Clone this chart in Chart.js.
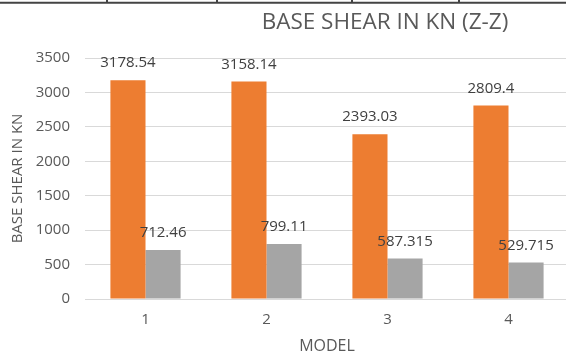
<!DOCTYPE html>
<html>
<head>
<meta charset="utf-8">
<script src="https://cdn.jsdelivr.net/npm/chart.js@4/dist/chart.umd.min.js"></script>
<style>
  html, body { margin: 0; padding: 0; background: #fff; overflow: hidden; }
  #wrap { width: 570px; height: 356px; }
</style>
</head>
<body>
<div id="wrap"><canvas id="c" width="570" height="356"></canvas></div>
<script>
// Base shear per model, Z-Z direction
const models = ['1', '2', '3', '4'];
const shearOrange = [3178.54, 3158.14, 2393.03, 2809.4];
const shearGray = [712.46, 799.11, 587.315, 529.715];
const yTickValues = [0, 500, 1000, 1500, 2000, 2500, 3000, 3500];
const chartTitle = 'BASE SHEAR IN KN (Z-Z)';
const yAxisTitle = 'BASE SHEAR IN KN';
const xAxisTitle = 'MODEL';

const FONT = '"Open Sans", "DejaVu Sans", sans-serif';

// Heading text plus the thin table rule across the top edge
const headingPlugin = {
  id: 'heading',
  afterDraw(chart) {
    const ctx = chart.ctx;
    ctx.save();
    ctx.strokeStyle = '#444';
    ctx.lineWidth = 2;
    ctx.beginPath();
    ctx.moveTo(0, 2.7);
    ctx.lineTo(chart.width, 2.7);
    [107, 217, 352, 459].forEach(x => {
      ctx.moveTo(x, 0);
      ctx.lineTo(x, 2.7);
    });
    ctx.stroke();
    ctx.fillStyle = '#595959';
    ctx.font = '22.5px ' + FONT;
    ctx.textAlign = 'center';
    ctx.textBaseline = 'middle';
    ctx.fillText(chartTitle, 385, 23);
    ctx.restore();
  }
};

// Value labels above each bar
const valueLabelPlugin = {
  id: 'valueLabels',
  afterDatasetsDraw(chart) {
    const ctx = chart.ctx;
    ctx.save();
    ctx.fillStyle = '#404040';
    ctx.font = '15px ' + FONT;
    ctx.textAlign = 'center';
    ctx.textBaseline = 'middle';
    chart.data.datasets.forEach((ds, i) => {
      const meta = chart.getDatasetMeta(i);
      meta.data.forEach((bar, j) => {
        ctx.fillText(String(ds.data[j]), bar.x, bar.y - 17);
      });
    });
    ctx.restore();
  }
};

new Chart(document.getElementById('c'), {
  type: 'bar',
  data: {
    labels: models,
    datasets: [
      { data: shearOrange, backgroundColor: '#ED7D31', borderWidth: 0 },
      { data: shearGray, backgroundColor: '#A5A5A5', borderWidth: 0 }
    ]
  },
  options: {
    responsive: false,
    animation: false,
    events: [],
    datasets: { bar: { categoryPercentage: 0.58, barPercentage: 1.0 } },
    layout: { padding: { top: 58, right: 1, bottom: 0, left: 0 } },
    plugins: { legend: { display: false }, title: { display: false }, tooltip: { enabled: false } },
    scales: {
      x: {
        grid: { display: false, drawTicks: false },
        border: { display: true, color: '#D9D9D9', width: 1 },
        ticks: { color: '#595959', font: { family: FONT, size: 15 }, padding: 12 },
        title: { display: true, text: xAxisTitle, color: '#595959', font: { family: FONT, size: 16 }, padding: { top: 0, bottom: 0 } },
        afterFit(scale) { scale.height = 57; }
      },
      y: {
        min: 0,
        max: 3500,
        afterBuildTicks(scale) { scale.ticks = yTickValues.map(v => ({ value: v })); },
        grid: { color: '#D9D9D9', lineWidth: 1, drawTicks: false },
        border: { display: false },
        ticks: {
          color: '#595959',
          font: { family: FONT, size: 15 },
          padding: 15,
          callback: v => String(v)
        },
        title: { display: true, text: yAxisTitle, color: '#595959', font: { family: FONT, size: 15 }, padding: { top: 9, bottom: 0 } },
        afterFit(scale) { scale.width = 85; }
      }
    }
  },
  plugins: [headingPlugin, valueLabelPlugin]
});
</script>
</body>
</html>
